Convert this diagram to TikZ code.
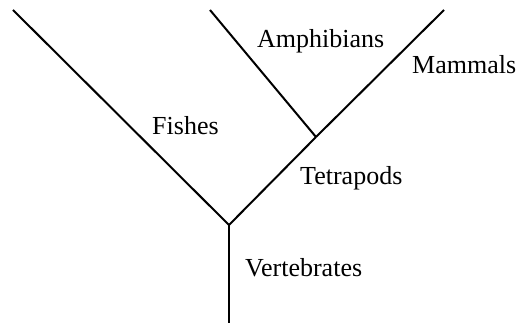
\documentclass[tikz,border=0pt]{standalone}
\usepackage{fontspec}
\setmainfont{Liberation Serif}
\begin{document}
\begin{tikzpicture}[x=1pt,y=-1pt,
  branch/.style={line width=2pt,black},
  lbl/.style={anchor=base west,inner sep=0pt,font=\fontsize{26}{30}\selectfont}]
\useasboundingbox (0,0) rectangle (519,323);
\coordinate (bottom) at (229,323);
\coordinate (root) at (229,225);
\coordinate (fishtop) at (13,10);
\coordinate (tetra) at (316,137);
\coordinate (amphtop) at (210,10);
\coordinate (mammtop) at (444,10);
\draw[branch] (bottom) -- (root);
\draw[branch] (root) -- (fishtop);
\draw[branch] (root) -- (tetra);
\draw[branch] (tetra) -- (amphtop);
\draw[branch] (tetra) -- (mammtop);
\node[lbl] (fishes) at (152,135) {Fishes};
\node[lbl] (amph) at (257,48) {Amphibians};
\node[lbl] (mamm) at (412,74) {Mammals};
\node[lbl] (tetrapods) at (300,185) {Tetrapods};
\node[lbl] (vert) at (245,276) {Vertebrates};
\end{tikzpicture}
\end{document}
